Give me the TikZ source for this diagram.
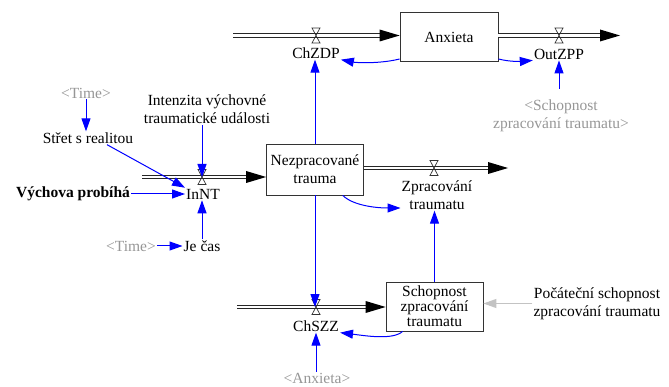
\documentclass[tikz,border=0pt]{standalone}
\usepackage{fontspec}
\setmainfont{Liberation Serif}
\usetikzlibrary{arrows.meta,calc}
\definecolor{shadowgray}{RGB}{150,150,150}
\definecolor{lightarrow}{RGB}{195,195,195}
\definecolor{conblue}{RGB}{0,0,255}
\tikzset{
  valve/.pic={\draw[black!80, line width=0.7pt] (-4,-7.5) -- (4,-7.5) -- (-4,7.5) -- (4,7.5) -- cycle;}
}
\newcommand\pipehead[1]{\fill[black] ($(#1)+(-20,-6)$) -- (#1) -- ($(#1)+(-20,6)$) -- cycle;}
\begin{document}
\begin{tikzpicture}[x=1pt,y=-1pt,
  every node/.style={font=\fontsize{15.5}{18}\selectfont, inner sep=1pt, align=center},
  stock/.style={draw=black!80, line width=0.8pt, rectangle, minimum width=97pt, minimum height=50pt, inner sep=2pt},
  shadow/.style={text=shadowgray},
  pipe/.style={draw=black!85, line width=0.9pt, double=white, double distance=2.4pt},
  conn/.style={draw=conblue, line width=1pt, -{Triangle[length=13pt,width=9pt]}}
]
\useasboundingbox (0,0) rectangle (669,387);

% stocks
\node[stock, minimum width=98pt, minimum height=49.5pt] (anx) at (449,37) {Anxieta};
\node[stock, minimum height=51pt] (nez) at (315,169.5) {Nezpracované\\trauma};
\node[stock, minimum height=49pt, font=\fontsize{15.5}{15}\selectfont] (sch) at (434.5,306.5) {Schopnost\\zpracování\\traumatu};

% valves and pipe ends
\coordinate (v1) at (316,35.5);
\coordinate (v2) at (559,35.5);
\coordinate (v3) at (202,177);
\coordinate (v4) at (434,168);
\coordinate (v5) at (316,307);
\coordinate (p1s) at (233,35.5);
\coordinate (p1e) at (anx.west |- p1s);
\coordinate (p2s) at (anx.east |- p1s);
\coordinate (p2e) at (620,35.5);
\coordinate (p3s) at (142,177);
\coordinate (p3e) at (nez.west |- p3s);
\coordinate (p4e) at (508,168);
\coordinate (p4s) at (nez.east |- p4e);
\coordinate (p5s) at (237,307);
\coordinate (p5e) at (sch.west |- p5s);

% labels
\node (chzdp) at (316,53) {ChZDP};
\node (outzpp) at (559,54) {OutZPP};
\node[shadow] (schopShadow) at (561,116) {<Schopnost\\zpracování traumatu>};
\node[shadow] (time1) at (86,93) {<Time>};
\node (stret) at (88,138) {Střet s realitou};
\node (intenz) at (207,109.5) {Intenzita výchovné\\traumatické události};
\node (innt) at (203,194) {InNT};
\node[font=\fontsize{15.5}{18}\selectfont\bfseries] (vychova) at (73,194) {Výchova probíhá};
\node (jecas) at (202,246) {Je čas};
\node[shadow] (time2) at (131,246) {<Time>};
\node (zprac) at (437,195) {Zpracování\\traumatu};
\node (chszz) at (316,326) {ChSZZ};
\node[shadow] (anxShadow) at (317,378) {<Anxieta>};
\node (pocat) at (597,303.5) {Počáteční schopnost\\zpracování traumatu};

% pipes
\draw[pipe, shorten >=16pt] (p1s) -- (p1e); \pipehead{p1e}
\draw[pipe, shorten >=16pt] (p2s) -- (p2e); \pipehead{p2e}
\draw[pipe, shorten >=16pt] (p3s) -- (p3e); \pipehead{p3e}
\draw[pipe, shorten >=16pt] (p4s) -- (p4e); \pipehead{p4e}
\draw[pipe, shorten >=16pt] (p5s) -- (p5e); \pipehead{p5e}
\pic at (v1) {valve};
\pic at (v2) {valve};
\pic at (v3) {valve};
\pic at (v4) {valve};
\pic at (v5) {valve};

% connectors
\draw[conn] (anx.204) .. controls +(-20,5) and +(15,3) .. (chzdp.south east);
\draw[conn] (anx.336) .. controls +(12,3) and +(-12,1) .. (outzpp.south west);
\draw[conn, shorten <=10pt] (schopShadow.north -| outzpp) -- (outzpp.south);
\draw[conn] (nez.north) -- (nez.north |- chzdp.south);
\draw[conn] (nez.south) -- (nez.south |- v5);
\draw[conn] (nez.-43) .. controls +(10,10) and +(-25,0) .. ([yshift=-13pt]zprac.west);
\draw[conn] (sch.north) -- (sch.north |- zprac.south);
\draw[conn] (sch.218) .. controls +(-10,9) and +(25,3) .. (chszz.south east);
\draw[conn] (anxShadow.north -| chszz) -- (chszz.south);
\draw[conn, draw=lightarrow] (pocat.west) -- (sch.east |- pocat.west);
\draw[conn] (time1.south) -- (time1.south |- stret.north);
\draw[conn] ([xshift=19pt]stret.south) -- (innt.north west);
\draw[conn] (vychova.east |- innt.west) -- (innt.west);
\draw[conn] (v3 |- intenz.south) -- (v3);
\draw[conn] (jecas.north) -- (jecas.north |- innt.south);
\draw[conn] (time2.east) -- (time2.east -| jecas.west);
\end{tikzpicture}
\end{document}
